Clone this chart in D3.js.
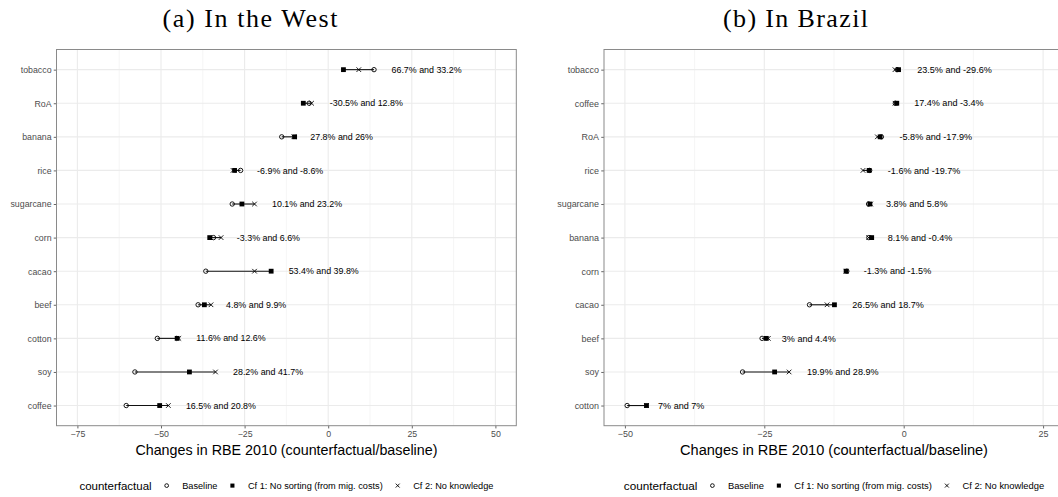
<!DOCTYPE html>
<html>
<head>
<meta charset="utf-8">
<script src="https://cdn.jsdelivr.net/npm/d3@7"></script>
<style>
  body { margin: 0; background: #fff; }
  svg { display: block; }
</style>
</head>
<body>
<svg id="chart" width="1058" height="497"></svg>
<script>
// ---- (a) In the West ----
const westCategories = ["tobacco", "RoA", "banana", "rice", "sugarcane", "corn", "cacao", "beef", "cotton", "soy", "coffee"];
const westBaseline = [13.7, -5.7, -13.9, -26.2, -28.7, -34.3, -36.6, -38.9, -51.1, -57.8, -60.4];
const westCf1      = [4.56, -7.44, -10.04, -28.0, -25.8, -35.43, -17.06, -37.03, -45.17, -41.5, -50.4];
const westCf2      = [9.15, -4.97, -10.29, -28.45, -22.04, -32.04, -22.03, -35.05, -44.66, -33.7, -47.8];
const westLabels = ["66.7% and 33.2%", "-30.5% and 12.8%", "27.8% and 26%", "-6.9% and -8.6%", "10.1% and 23.2%",
                    "-3.3% and 6.6%", "53.4% and 39.8%", "4.8% and 9.9%", "11.6% and 12.6%", "28.2% and 41.7%", "16.5% and 20.8%"];
const westTicks = [-75, -50, -25, 0, 25, 50];

// ---- (b) In Brazil ----
const brazilCategories = ["tobacco", "coffee", "RoA", "rice", "sugarcane", "banana", "corn", "cacao", "beef", "soy", "cotton"];
const brazilBaseline = [-1.2, -1.5, -4.0, -6.1, -6.3, -6.25, -10.2, -16.9, -25.4, -28.9, -49.6];
const brazilCf1      = [-0.92, -1.24, -4.23, -6.2, -6.06, -5.74, -10.33, -12.42, -24.64, -23.15, -46.13];
const brazilCf2      = [-1.56, -1.55, -4.72, -7.3, -5.93, -6.28, -10.35, -13.74, -24.28, -20.55, -46.13];
const brazilLabels = ["23.5% and -29.6%", "17.4% and -3.4%", "-5.8% and -17.9%", "-1.6% and -19.7%", "3.8% and 5.8%",
                      "8.1% and -0.4%", "-1.3% and -1.5%", "26.5% and 18.7%", "3% and 4.4%", "19.9% and 28.9%", "7% and 7%"];
const brazilTicks = [-50, -25, 0, 25];

const seriesNames = ["Baseline", "Cf 1: No sorting (from mig. costs)", "Cf 2: No knowledge"];
const legendTitle = "counterfactual";
const axisTitle = "Changes in RBE 2010 (counterfactual/baseline)";

const svg = d3.select("#chart");
svg.append("rect").attr("width", 1058).attr("height", 497).attr("fill", "#fff");

const SANS = "'Liberation Sans', Arial, Helvetica, sans-serif";
const SERIF = "'Liberation Serif', 'Times New Roman', serif";
const panelTop = 49.5, panelBottom = 425.7;

// point glyphs: open circle, filled square, cross
function drawGlyph(sel, kind, cx, cy, s) {
  if (kind === 0) {
    sel.append("circle").attr("cx", cx).attr("cy", cy).attr("r", 2.2 * s)
      .attr("fill", "none").attr("stroke", "#000").attr("stroke-width", 0.9);
  } else if (kind === 1) {
    const h = 2.4 * s;
    sel.append("rect").attr("x", cx - h).attr("y", cy - h).attr("width", 2 * h).attr("height", 2 * h)
      .attr("fill", "#000");
  } else {
    const h = 2.3 * s;
    sel.append("path").attr("d", `M${cx - h},${cy - h}L${cx + h},${cy + h}M${cx - h},${cy + h}L${cx + h},${cy - h}`)
      .attr("stroke", "#000").attr("stroke-width", 0.9).attr("fill", "none");
  }
}

function drawPanel(o) {
  const g = svg.append("g");
  const x = d3.scaleLinear().domain(o.domain).range([o.left, o.right]);
  const y = d3.scalePoint().domain(o.categories).range([panelTop, panelBottom]).padding(0.6);
  const fs = o.fontScale;

  // minor grid at midpoints between ticks
  const minor = [];
  for (let i = 0; i < o.ticks.length - 1; i++) minor.push((o.ticks[i] + o.ticks[i + 1]) / 2);
  minor.push(o.ticks[0] - (o.ticks[1] - o.ticks[0]) / 2);
  minor.push(o.ticks[o.ticks.length - 1] + (o.ticks[1] - o.ticks[0]) / 2);
  g.selectAll(".minor").data(minor.filter(v => v > o.domain[0] && v < o.domain[1])).join("line")
    .attr("x1", d => x(d)).attr("x2", d => x(d)).attr("y1", panelTop).attr("y2", panelBottom)
    .attr("stroke", "#EFEFEF").attr("stroke-width", 0.6);
  g.selectAll(".majorx").data(o.ticks).join("line")
    .attr("x1", d => x(d)).attr("x2", d => x(d)).attr("y1", panelTop).attr("y2", panelBottom)
    .attr("stroke", "#EBEBEB").attr("stroke-width", 1.1);
  g.selectAll(".majory").data(o.categories).join("line")
    .attr("x1", o.left).attr("x2", o.right).attr("y1", d => y(d)).attr("y2", d => y(d))
    .attr("stroke", "#EBEBEB").attr("stroke-width", 1.1);

  // axes
  const xAxis = g.append("g").attr("transform", `translate(0,${panelBottom})`)
    .call(d3.axisBottom(x).tickValues(o.ticks).tickSize(2.75).tickPadding(2.2).tickFormat(d3.format("d")));
  const yAxis = g.append("g").attr("transform", `translate(${o.left},0)`)
    .call(d3.axisLeft(y).tickSize(2.75).tickPadding(2.2));
  [xAxis, yAxis].forEach(a => {
    a.select(".domain").remove();
    a.selectAll(".tick line").attr("stroke", "#555").attr("stroke-width", 0.9);
    a.selectAll(".tick text").attr("fill", "#4D4D4D").attr("font-family", SANS).attr("font-size", 8.8 * fs);
  });

  // panel border
  g.append("rect").attr("x", o.left).attr("y", panelTop)
    .attr("width", o.right - o.left).attr("height", panelBottom - panelTop)
    .attr("fill", "none").attr("stroke", "#8A8A8A").attr("stroke-width", 1);

  // dumbbell segments and points
  const rows = o.categories.map((c, i) => ({
    cat: c, vals: [o.baseline[i], o.cf1[i], o.cf2[i]], label: o.labels[i]
  }));
  g.selectAll(".seg").data(rows).join("line")
    .attr("x1", d => x(d3.min(d.vals))).attr("x2", d => x(d3.max(d.vals)))
    .attr("y1", d => y(d.cat)).attr("y2", d => y(d.cat))
    .attr("stroke", "#111").attr("stroke-width", 1.1);
  rows.forEach(d => {
    d.vals.forEach((v, k) => drawGlyph(g, k, x(v), y(d.cat), 1));
  });

  // value labels, left-justified past the rightmost point
  rows.forEach(d => {
    const x0 = x(d3.max(d.vals));
    const t = g.append("text").attr("x", x0).attr("y", y(d.cat)).attr("dy", "0.35em")
      .attr("font-family", SANS).attr("font-size", 8.9 * fs).attr("fill", "#000").text(d.label);
    const w = t.node().getComputedTextLength();
    t.attr("x", x0 + 0.25 * w);
  });

  // axis title
  const cx = (o.left + o.right) / 2;
  g.append("text").attr("x", cx).attr("y", 455).attr("text-anchor", "middle")
    .attr("font-family", SANS).attr("font-size", 14.3 * fs).attr("fill", "#000").text(axisTitle);

  // subfigure title
  g.append("text").attr("x", o.titleX).attr("y", 27).attr("text-anchor", "middle")
    .attr("font-family", SERIF).attr("font-size", 26).attr("fill", "#000")
    .attr("textLength", o.titleLen).attr("lengthAdjust", "spacing").text(o.title);

  // legend, centred under the panel
  const lg = g.append("g");
  const ly = 485.6;
  let cursor = 0;
  const tt = lg.append("text").attr("x", 0).attr("y", ly).attr("dy", "0.35em")
    .attr("font-family", SANS).attr("font-size", 11.5 * fs).text(legendTitle);
  cursor = tt.node().getComputedTextLength() + 15;
  seriesNames.forEach((name, k) => {
    drawGlyph(lg, k, cursor, ly, 0.85);
    cursor += 15.5;
    const lt = lg.append("text").attr("x", cursor).attr("y", ly).attr("dy", "0.35em")
      .attr("font-family", SANS).attr("font-size", 9.2 * fs).text(name);
    cursor += lt.node().getComputedTextLength();
    if (k < seriesNames.length - 1) cursor += 15;
  });
  lg.attr("transform", `translate(${cx - cursor / 2},0)`);
}

drawPanel({
  categories: westCategories, baseline: westBaseline, cf1: westCf1, cf2: westCf2, labels: westLabels,
  ticks: westTicks, domain: [-81.25, 56.25], left: 56.5, right: 516.3,
  title: "(a) In the West", titleX: 250, titleLen: 175, fontScale: 1
});
drawPanel({
  categories: brazilCategories, baseline: brazilBaseline, cf1: brazilCf1, cf2: brazilCf2, labels: brazilLabels,
  ticks: brazilTicks, domain: [-53.75, 28.75], left: 604, right: 1064,
  title: "(b) In Brazil", titleX: 795.5, titleLen: 145, fontScale: 1.02
});
</script>
</body>
</html>
